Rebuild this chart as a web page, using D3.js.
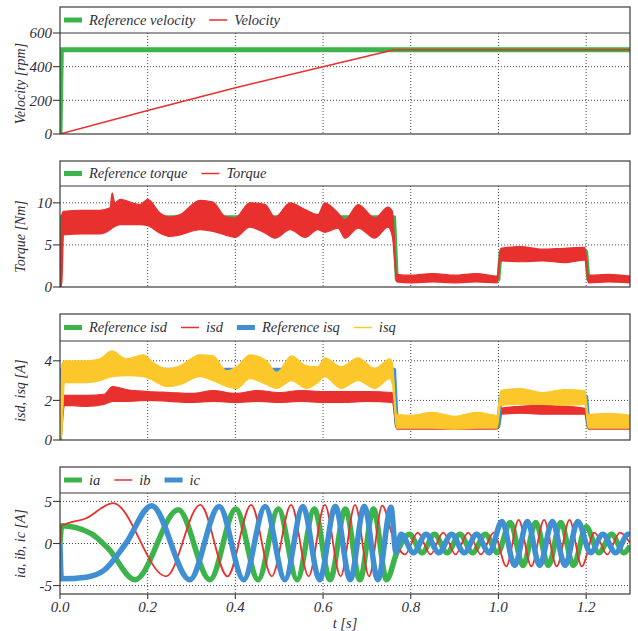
<!DOCTYPE html>
<html>
<head>
<meta charset="utf-8">
<title>Drive response</title>
<script src="https://cdnjs.cloudflare.com/ajax/libs/d3/7.8.5/d3.min.js"></script>
<style>
  body { margin: 0; background: #fff; }
  svg text { font-family: "Liberation Serif", "DejaVu Serif", serif; font-style: italic; fill: #2e2e3a; }
</style>
</head>
<body>
<div id="chart"></div>
<script>
// ---- data ----
var xTicks = [0, 0.2, 0.4, 0.6, 0.8, 1.0, 1.2];

// step references share one time base
var stepT   = [0, 0.003, 0.762, 0.768, 1.0, 1.005, 1.2, 1.205, 1.3];
var refVel  = [0, 500, 500, 500, 500, 500, 500, 500, 500];
var refTq   = [0, 8.3, 8.3, 0.9, 0.9, 4.2, 4.2, 0.9, 0.9];
var refIsd  = [0, 2.15, 2.15, 0.7, 0.7, 1.45, 1.45, 0.7, 0.7];
var refIsq  = [0, 3.55, 3.55, 0.85, 0.85, 2.2, 2.2, 0.85, 0.85];

var velT = [0, 0.2, 0.4, 0.6, 0.762, 1.3];
var velV = [0, 140, 275, 400, 500, 500];

// noisy signals as min / max envelopes
var tqT  = [0, 0.004, 0.008, 0.05, 0.09, 0.114, 0.119, 0.125, 0.137, 0.182, 0.2, 0.228, 0.251, 0.274, 0.319, 0.349, 0.376, 0.399, 0.433, 0.468, 0.49, 0.525, 0.559, 0.588, 0.604, 0.634, 0.65, 0.68, 0.718, 0.748, 0.758, 0.768, 0.8, 0.85, 0.9, 0.95, 0.997, 1.005, 1.05, 1.1, 1.15, 1.197, 1.205, 1.25, 1.3];
var tqHi = [0, 8.6, 9.0, 9.1, 9.1, 9.4, 11.2, 10.0, 10.4, 9.8, 10.4, 8.8, 8.3, 8.6, 10.3, 10.1, 8.4, 8.2, 10.0, 9.8, 8.3, 10.0, 9.2, 8.6, 10.0, 8.8, 8.0, 9.8, 8.2, 9.5, 9.0, 1.5, 1.4, 1.6, 1.4, 1.6, 1.3, 4.6, 4.8, 4.5, 4.6, 4.7, 1.4, 1.5, 1.3];
var tqLo = [0, 0.5, 6.2, 6.3, 6.3, 6.8, 7.0, 7.2, 7.4, 7.4, 7.3, 6.4, 6.0, 6.2, 6.8, 6.6, 6.2, 5.9, 7.1, 6.4, 5.8, 6.8, 5.9, 6.8, 6.5, 7.0, 5.8, 7.0, 5.8, 7.1, 6.0, 0.6, 0.5, 0.6, 0.5, 0.6, 0.5, 3.1, 3.0, 3.1, 2.9, 3.2, 0.5, 0.6, 0.5];

var isqT  = [0, 0.004, 0.01, 0.06, 0.091, 0.118, 0.152, 0.19, 0.213, 0.243, 0.274, 0.319, 0.349, 0.38, 0.403, 0.433, 0.471, 0.494, 0.528, 0.562, 0.588, 0.604, 0.641, 0.68, 0.718, 0.752, 0.758, 0.768, 0.8, 0.85, 0.9, 0.95, 0.997, 1.005, 1.05, 1.1, 1.15, 1.197, 1.205, 1.25, 1.3];
var isqHi = [0, 3.8, 4.0, 4.0, 4.1, 4.5, 4.1, 4.3, 3.9, 3.6, 3.75, 4.3, 4.25, 3.5, 3.7, 4.3, 4.0, 3.4, 4.25, 3.75, 3.7, 4.15, 3.7, 4.15, 3.6, 4.1, 3.9, 1.3, 1.25, 1.4, 1.2, 1.4, 1.25, 2.5, 2.6, 2.4, 2.55, 2.5, 1.3, 1.35, 1.25];
var isqLo = [0, 0.3, 2.9, 2.9, 3.0, 3.2, 3.25, 3.2, 3.0, 2.7, 2.8, 3.2, 3.0, 2.7, 2.6, 3.1, 2.8, 2.6, 3.0, 2.6, 2.9, 3.2, 2.6, 3.0, 2.6, 3.1, 2.8, 0.6, 0.6, 0.6, 0.55, 0.6, 0.6, 1.75, 1.8, 1.8, 1.75, 1.8, 0.6, 0.6, 0.6];

var isdT  = [0, 0.004, 0.01, 0.06, 0.1, 0.12, 0.15, 0.2, 0.25, 0.3, 0.35, 0.4, 0.45, 0.5, 0.55, 0.6, 0.65, 0.7, 0.758, 0.768, 0.85, 0.95, 0.997, 1.005, 1.05, 1.1, 1.15, 1.197, 1.205, 1.3];
var isdHi = [0, 2.2, 2.25, 2.25, 2.3, 2.7, 2.55, 2.45, 2.4, 2.35, 2.5, 2.35, 2.5, 2.4, 2.5, 2.45, 2.45, 2.45, 2.4, 0.8, 0.85, 0.8, 0.8, 1.6, 1.7, 1.75, 1.7, 1.6, 0.8, 0.8];
var isdLo = [0, 0.5, 1.75, 1.7, 1.8, 1.95, 1.95, 2.0, 1.95, 1.9, 1.95, 1.9, 1.95, 1.9, 1.95, 1.9, 1.9, 1.95, 1.9, 0.55, 0.55, 0.55, 0.55, 1.3, 1.35, 1.3, 1.3, 1.3, 0.55, 0.55];

// phase currents: turning points [t, A]
var ia = [[0,0],[0.004,2.1],[0.07,1.2],[0.11,-0.6],[0.171,-4.3],[0.27,4.0],[0.342,-4.3],[0.401,4.1],[0.452,-4.3],[0.498,4.1],[0.541,-4.3],[0.58,4.1],[0.616,-4.3],[0.651,4.1],[0.684,-4.3],[0.715,4.1],[0.745,-4.3],[0.768,-1.1],[0.797,1.1],[0.826,-1.1],[0.854,1.1],[0.883,-1.1],[0.912,1.1],[0.941,-1.1],[0.97,1.1],[0.998,-1.1],[1.027,2.5],[1.056,-2.6],[1.085,2.5],[1.114,-2.6],[1.142,2.5],[1.171,-2.6],[1.2,2.0],[1.229,-1.1],[1.258,1.1],[1.286,-1.1],[1.3,-0.3]];
var ib = [[0,0],[0.004,2.1],[0.06,3.0],[0.121,4.8],[0.242,-3.9],[0.32,4.6],[0.382,-3.9],[0.436,4.6],[0.483,-3.9],[0.527,4.6],[0.567,-3.9],[0.604,4.6],[0.64,-3.9],[0.673,4.6],[0.705,-3.9],[0.735,4.5],[0.758,1.0],[0.787,-1.3],[0.816,1.3],[0.845,-1.3],[0.874,1.3],[0.902,-1.3],[0.931,1.3],[0.96,-1.3],[0.989,1.3],[1.018,-2.7],[1.046,2.8],[1.075,-2.7],[1.104,2.8],[1.133,-2.7],[1.162,2.8],[1.19,-2.7],[1.219,1.3],[1.248,-1.3],[1.277,1.3],[1.3,0.1]];
var ic = [[0,0],[0.003,-4.2],[0.06,-4.0],[0.1,-3.2],[0.15,0.0],[0.209,4.5],[0.296,-4.3],[0.363,4.4],[0.419,-4.3],[0.468,4.4],[0.513,-4.3],[0.554,4.4],[0.592,-4.3],[0.628,4.4],[0.662,-4.3],[0.694,4.4],[0.725,-4.3],[0.755,4.3],[0.766,-1.0],[0.778,1.1],[0.806,-1.1],[0.835,1.1],[0.864,-1.1],[0.893,1.1],[0.922,-1.1],[0.95,1.1],[0.979,-1.1],[1.008,2.6],[1.037,-2.6],[1.066,2.6],[1.094,-2.6],[1.123,2.6],[1.152,-2.6],[1.181,2.6],[1.21,-1.1],[1.238,1.1],[1.267,-1.1],[1.296,1.1],[1.3,1.05]];

var GREEN = '#3cb44b', RED = '#e8302e', BLUE = '#3f8fd2', YELLOW = '#fcc72a';

// ---- layout ----
var W = 638, H = 631, left = 60, right = 630;
var svg = d3.select('#chart').append('svg').attr('width', W).attr('height', H);
var x = d3.scaleLinear().domain([0, 1.3]).range([left, right]);

var panels = [
  { top: 7, mid: 33, bottom: 134, domain: [0, 600], ticks: [0, 200, 400, 600], label: 'Velocity [rpm]',
    legend: [['Reference velocity', GREEN, true], ['Velocity', RED, false]] },
  { top: 161, mid: 186, bottom: 287, domain: [0, 12], ticks: [0, 5, 10], label: 'Torque [Nm]',
    legend: [['Reference torque', GREEN, true], ['Torque', RED, false]] },
  { top: 314, mid: 341, bottom: 440, domain: [0, 5], ticks: [0, 2, 4], label: 'isd, isq [A]',
    legend: [['Reference isd', GREEN, true], ['isd', RED, false], ['Reference isq', BLUE, true], ['isq', YELLOW, false]] },
  { top: 467, mid: 493, bottom: 594, domain: [-6, 6], ticks: [-5, 0, 5], label: 'ia, ib, ic [A]',
    legend: [['ia', GREEN, true], ['ib', RED, false], ['ic', BLUE, true]] }
];

function zip(t, v) { return t.map(function (d, i) { return [d, v[i]]; }); }
function band(t, lo, hi) { return t.map(function (d, i) { return [d, lo[i], hi[i]]; }); }

panels.forEach(function (p, k) {
  var y = d3.scaleLinear().domain(p.domain).range([p.bottom, p.mid]);
  p.y = y;
  var g = svg.append('g');

  svg.append('clipPath').attr('id', 'clip' + k).append('rect')
    .attr('x', left).attr('y', p.mid).attr('width', right - left).attr('height', p.bottom - p.mid);

  // dotted grid
  g.selectAll('.gx').data(xTicks.slice(1)).enter().append('line')
    .attr('x1', x).attr('x2', x).attr('y1', p.mid).attr('y2', p.bottom)
    .attr('stroke', '#333').attr('stroke-width', 0.9).attr('stroke-dasharray', '1,2');
  g.selectAll('.gy').data(p.ticks.filter(function (d) { return y(d) > p.mid + 1 && y(d) < p.bottom - 1; })).enter().append('line')
    .attr('x1', left).attr('x2', right).attr('y1', y).attr('y2', y)
    .attr('stroke', '#333').attr('stroke-width', 0.9).attr('stroke-dasharray', '1,2');

  p.plot = g.append('g').attr('clip-path', 'url(#clip' + k + ')');

  // frame + legend separator
  g.append('rect').attr('x', left).attr('y', p.top).attr('width', right - left).attr('height', p.bottom - p.top)
    .attr('fill', 'none').attr('stroke', '#3a3a3a').attr('stroke-width', 1.2);
  g.append('line').attr('x1', left).attr('x2', right).attr('y1', p.mid).attr('y2', p.mid)
    .attr('stroke', '#3a3a3a').attr('stroke-width', 1.2);

  // y ticks
  g.selectAll('.ty').data(p.ticks).enter().append('line')
    .attr('x1', left - 7).attr('x2', left).attr('y1', y).attr('y2', y)
    .attr('stroke', '#3a3a3a').attr('stroke-width', 1.1);
  g.selectAll('.yl').data(p.ticks).enter().append('text')
    .attr('x', left - 8).attr('y', y).attr('dy', '0.35em').attr('text-anchor', 'end')
    .style('font-size', '15px').text(function (d) { return d; });

  // y title
  g.append('text').attr('transform', 'translate(20,' + (p.mid + p.bottom) / 2 + ') rotate(-90)')
    .attr('text-anchor', 'middle').attr('dy', '0.35em').style('font-size', '14px').text(p.label);

  // legend
  var lx = 64, ly = (p.top + p.mid) / 2;
  p.legend.forEach(function (e) {
    g.append('line').attr('x1', lx).attr('x2', lx + 18).attr('y1', ly).attr('y2', ly)
      .attr('stroke', e[1]).attr('stroke-width', e[2] ? 5 : 1.5);
    var t = g.append('text').attr('x', lx + 25).attr('y', ly).attr('dy', '0.33em')
      .style('font-size', '14.5px').text(e[0]);
    lx += 25 + t.node().getComputedTextLength() + 14;
  });
});

// x axis on the last panel
var last = panels[3];
svg.selectAll('.tx').data(xTicks).enter().append('line')
  .attr('x1', x).attr('x2', x).attr('y1', last.bottom).attr('y2', last.bottom + 5)
  .attr('stroke', '#3a3a3a').attr('stroke-width', 1.1);
svg.selectAll('.xl').data(xTicks).enter().append('text')
  .attr('x', x).attr('y', 612).attr('text-anchor', 'middle').style('font-size', '15px')
  .text(d3.format('.1f'));
svg.append('text').attr('x', (left + right) / 2).attr('y', 628).attr('text-anchor', 'middle')
  .style('font-size', '14.5px').text('t [s]');

// ---- series ----
function drawLine(p, pts, color, w, curve) {
  var line = d3.line().x(function (d) { return x(d[0]); }).y(function (d) { return p.y(d[1]); })
    .curve(curve || d3.curveLinear);
  p.plot.append('path').datum(pts).attr('d', line).attr('fill', 'none')
    .attr('stroke', color).attr('stroke-width', w).attr('stroke-linejoin', 'round');
}
function drawBand(p, pts, color) {
  var area = d3.area().x(function (d) { return x(d[0]); })
    .y0(function (d) { return p.y(d[1]); }).y1(function (d) { return p.y(d[2]); })
    .curve(d3.curveMonotoneX);
  p.plot.append('path').datum(pts).attr('d', area).attr('fill', color)
    .attr('stroke', color).attr('stroke-width', 1.2).attr('stroke-linejoin', 'round');
}

var P = panels;
drawLine(P[0], zip(stepT, refVel), GREEN, 5);
drawLine(P[0], [[0.002, 0], [0.002, 500]], GREEN, 2);
drawLine(P[0], zip(velT, velV), RED, 1.5);

drawLine(P[1], zip(stepT, refTq), GREEN, 4);
drawBand(P[1], band(tqT, tqLo, tqHi), RED);

drawLine(P[2], zip(stepT, refIsd), GREEN, 4);
drawBand(P[2], band(isdT, isdLo, isdHi), RED);
drawLine(P[2], zip(stepT, refIsq), BLUE, 4);
drawBand(P[2], band(isqT, isqLo, isqHi), YELLOW);

drawLine(P[3], ia, GREEN, 5.5, d3.curveMonotoneX);
drawLine(P[3], ib, RED, 1.8, d3.curveMonotoneX);
drawLine(P[3], ic, BLUE, 5.5, d3.curveMonotoneX);
</script>
</body>
</html>
